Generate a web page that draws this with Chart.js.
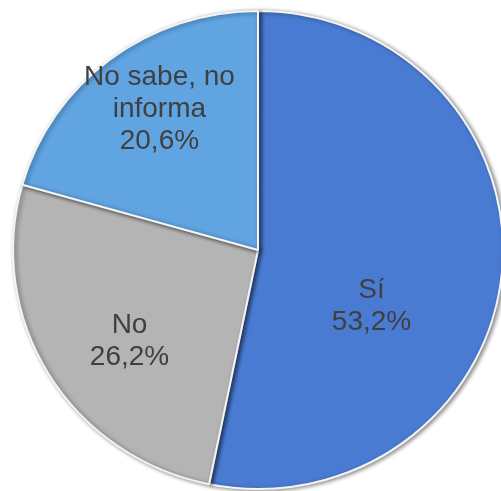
<!DOCTYPE html>
<html>
<head>
<meta charset="utf-8">
<script src="https://cdn.jsdelivr.net/npm/chart.js@4"></script>
<style>
    html, body { margin: 0; padding: 0; background: #ffffff; }
    #wrap { width: 501px; height: 491px; }
</style>
</head>
<body>
<div id="wrap"><canvas id="pieChart" width="501" height="491"></canvas></div>
<script>
// Data
const categories = ['Sí', 'No', 'No sabe, no informa'];
const labelLines = [['Sí'], ['No'], ['No sabe, no', 'informa']];
const percentages = [53.2, 26.2, 20.6];
const sliceColors = ['#4a7bd2', '#b4b4b4', '#60a4e2'];

// label placement relative to pie center, as fraction of radius
const labelSpots = [[0.475, 0.236], [-0.5375, 0.381], [-0.4125, -0.589]];

const sliceLabels = {
    id: 'sliceLabels',
    afterDatasetsDraw(chart) {
        const ctx = chart.ctx;
        const meta = chart.getDatasetMeta(0);
        ctx.save();
        ctx.font = '28px "Liberation Sans", Arial, sans-serif';
        ctx.fillStyle = '#404040';
        ctx.textAlign = 'center';
        ctx.textBaseline = 'middle';
        meta.data.forEach((arc, i) => {
            const r = arc.outerRadius;
            const cx = arc.x + labelSpots[i][0] * r;
            const cy = arc.y + labelSpots[i][1] * r;
            const value = chart.data.datasets[0].data[i].toFixed(1).replace('.', ',') + '%';
            const lines = labelLines[i].concat([value]);
            const lh = 32;
            const top = cy - (lines.length - 1) * lh / 2;
            lines.forEach((t, j) => ctx.fillText(t, cx, top + j * lh));
        });
        ctx.restore();
    }
};

// slight horizontal stretch + soft shadow, like the original
const pieShadow = {
    id: 'pieShadow',
    beforeDatasetsDraw(chart) {
        const ctx = chart.ctx;
        const cx = chart.getDatasetMeta(0).data[0].x;
        ctx.save();
        ctx.translate(cx, 0);
        ctx.scale(1.025, 1);
        ctx.translate(-cx, 0);
        ctx.shadowColor = 'rgba(0,0,0,0.45)';
        ctx.shadowBlur = 4;
        ctx.shadowOffsetX = 2;
        ctx.shadowOffsetY = 1;
    },
    afterDatasetsDraw(chart) {
        chart.ctx.restore();
    }
};

new Chart(document.getElementById('pieChart'), {
    type: 'pie',
    data: {
        labels: categories,
        datasets: [{
            data: percentages,
            backgroundColor: sliceColors,
            borderColor: '#f4f4f4',
            borderWidth: 2
        }]
    },
    options: {
        responsive: false,
        animation: false,
        layout: { padding: { left: 18, right: 3, top: 10, bottom: 1 } },
        plugins: {
            legend: { display: false },
            tooltip: { enabled: false }
        }
    },
    plugins: [pieShadow, sliceLabels]
});
</script>
</body>
</html>
